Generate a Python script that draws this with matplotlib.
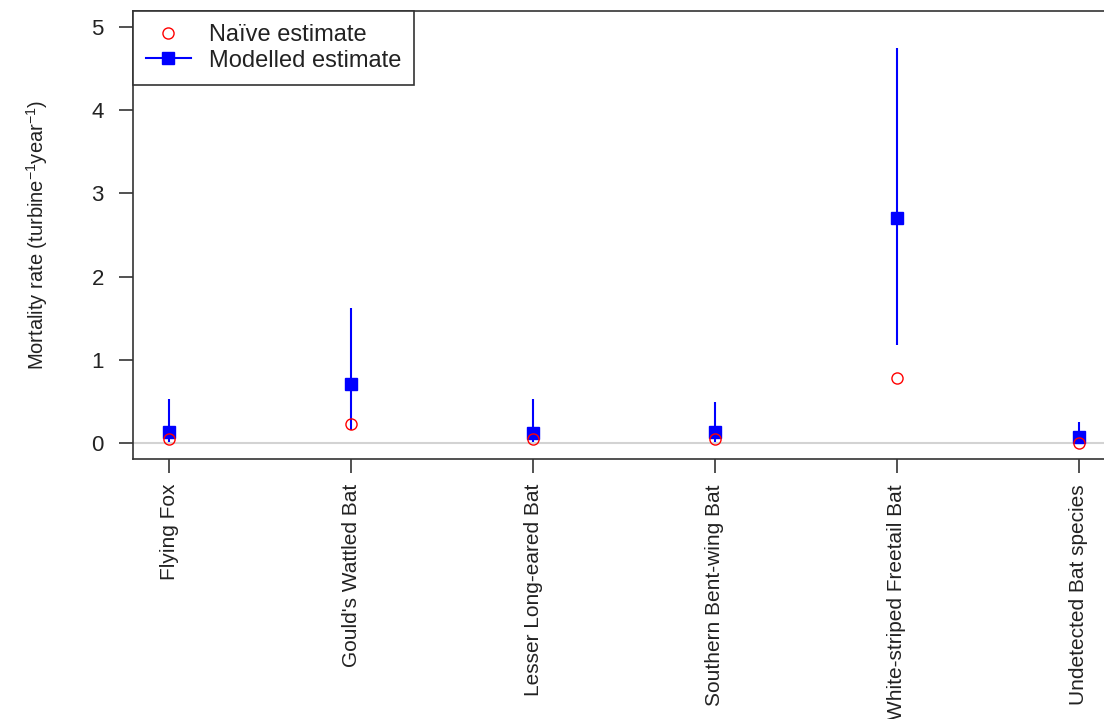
import matplotlib
matplotlib.use("Agg")
import matplotlib.pyplot as plt
import numpy as np
from matplotlib.lines import Line2D

species = ["Flying Fox", "Gould's Wattled Bat", "Lesser Long-eared Bat",
           "Southern Bent-wing Bat", "White-striped Freetail Bat", "Undetected Bat species"]
naive = [0.05, 0.23, 0.05, 0.05, 0.78, 0.00]
modelled = [0.13, 0.71, 0.12, 0.13, 2.70, 0.07]
lower = [0.01, 0.16, 0.01, 0.01, 1.18, 0.00]
upper = [0.53, 1.62, 0.53, 0.49, 4.75, 0.25]
yticks = [0, 1, 2, 3, 4, 5]

plt.rcParams['font.family'] = ['Liberation Sans', 'DejaVu Sans']

fig = plt.figure(figsize=(11.04, 7.19), dpi=100)
W, H = 1104, 719
left, right, top, bottom = 133, 1115, 11, 459
ax = fig.add_axes([left / W, 1 - bottom / H, (right - left) / W, (bottom - top) / H])

x = np.arange(len(species))
ax.axhline(0, color='#d3d3d3', lw=1.5, zorder=1)
ax.vlines(x, lower, upper, color='blue', lw=1.5, zorder=2)
ax.plot(x, modelled, 's', color='blue', ms=8, zorder=3)
ax.plot(x, naive, 'o', mfc='none', mec='red', ms=8, mew=1.0, zorder=4)

ax.set_xlim(-0.2, len(species) - 1 + 0.2)
ax.set_ylim(-0.19, 5.19)
ax.set_yticks(yticks)
ax.set_yticklabels([str(v) for v in yticks], fontsize=16, color='#222222')
ax.set_xticks(x)
ax.set_xticklabels(species, rotation=90, fontsize=15, va='top', color='#222222')
ax.tick_params(axis='both', length=10, width=1.2, color='#333333')
ax.tick_params(axis='y', pad=11)
ax.tick_params(axis='x', pad=8)
for s in ax.spines.values():
    s.set_linewidth(1.2)
    s.set_color('#333333')

ax.set_ylabel(r'Mortality rate (turbine$^{\mathregular{-1}}$year$^{\mathregular{-1}}$)',
              fontsize=14.5, labelpad=30, color='#222222')

h1 = Line2D([], [], marker='o', ls='none', mfc='none', mec='red', ms=8)
h2 = Line2D([], [], marker='s', color='blue', ms=8, lw=1.5)
leg = ax.legend([h1, h2], ["Naïve estimate", "Modelled estimate"], loc='upper left',
                bbox_to_anchor=(0, 1), borderaxespad=0, fancybox=False, framealpha=1,
                edgecolor='#333333', fontsize=17, handlelength=1.9, borderpad=0.55,
                labelspacing=0.15, handletextpad=0.75)
leg.get_frame().set_linewidth(1.2)
for t in leg.get_texts():
    t.set_color('#222222')

fig.savefig("out.png", dpi=100)
